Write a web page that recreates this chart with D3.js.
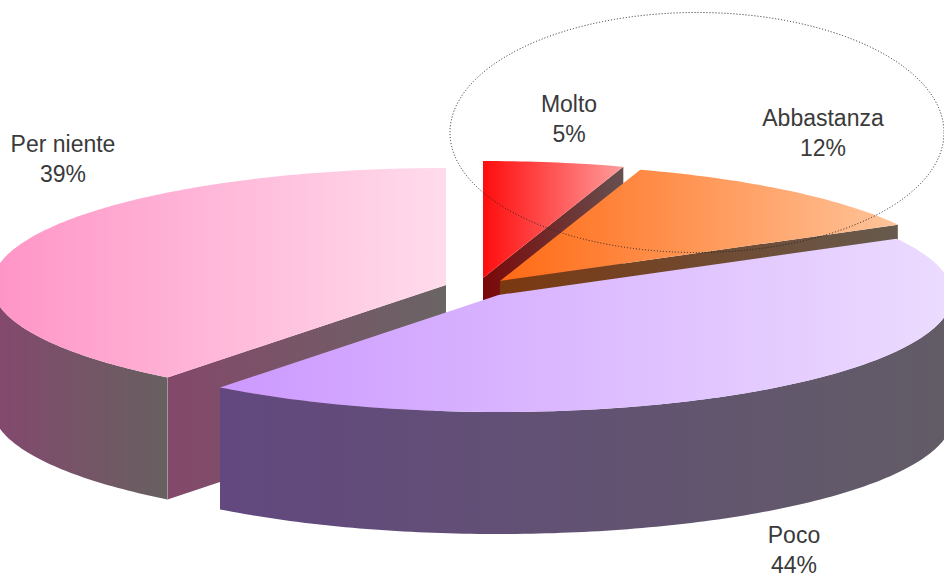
<!DOCTYPE html>
<html><head><meta charset="utf-8">
<script src="https://cdn.jsdelivr.net/npm/d3@7"></script>
<style>html,body{margin:0;padding:0;background:#fff;overflow:hidden}svg{display:block}</style>
</head><body><svg id="c" width="944" height="575"></svg>
<script>
const categories = ["Molto","Abbastanza","Poco","Per niente"];
const values = [5,12,43.51,39.49];
const topColors = [["#ff0d0d","#ff9d9d"],["#ff6a14","#ffc49a"],["#cc99ff","#ecdcff"],["#ff94c6","#ffdcec"]];
const edgeColors = [["#7a0808","#665050"],["#7a3810","#675a4e"],["#5f4680","#625c66"],["#84486a","#6a6464"]];
const rimColors = [["#7a0808","#665050"],["#7a3810","#675a4e"],["#62487f","#625c66"],["#84486e","#676060"]];
const apex = [[483,278],[500,281],[498.5,295],[446,285]];
const labelPos = [[569,112],[823,126],[794,543],[63,152]];
const rx = 454, ry = 117, depth = 122;

const svg = d3.select("#c");
const defs = svg.append("defs");
const pie = d3.pie().sort(null).value(d=>d);
const arcs = pie(values);
const grad = (id,c,x0,x1)=>{
  const g = defs.append("linearGradient").attr("id",id).attr("gradientUnits","userSpaceOnUse")
    .attr("x1",x0).attr("x2",x1).attr("y1",0).attr("y2",0);
  g.append("stop").attr("offset",0).attr("stop-color",c[0]);
  g.append("stop").attr("offset",1).attr("stop-color",c[1]);
};
const pt = (i,a,dz=0)=>[apex[i][0]+rx*Math.sin(a), apex[i][1]-ry*Math.cos(a)+dz];
const sweep = (a0,a1)=>{const n=Math.max(2,Math.ceil(Math.abs(a1-a0)*60));return d3.range(n+1).map(k=>a0+(a1-a0)*k/n);};
const poly = pts=>d3.line()(pts)+"Z";
const xExtent = pts=>d3.extent(pts,p=>p[0]);

function drawSlice(i,wallAngle){
  const a = arcs[i], g = svg.append("g");
  const rim = sweep(a.startAngle,a.endAngle).map(t=>pt(i,t));
  const topPts = [apex[i],...rim];
  const [x0,x1] = xExtent(topPts);
  grad("top"+i,topColors[i],x0,x1);
  wallAngle.forEach(w=>{
    const p = pt(i,w);
    const [e0,e1] = xExtent([apex[i],p]);
    grad("edge"+i,edgeColors[i],e0,e1);
    g.append("path").attr("d",poly([apex[i],p,[p[0],p[1]+depth],[apex[i][0],apex[i][1]+depth]]))
      .attr("fill",`url(#edge${i})`);
  });
  const lo = Math.max(a.startAngle,Math.PI/2), hi = Math.min(a.endAngle,Math.PI*1.5);
  if(hi>lo){
    const s = sweep(lo,hi);
    const top = s.map(t=>pt(i,t));
    const [r0,r1] = xExtent(top);
    // the rim runs from its darker, coloured end on the left to neutral grey on the right
    grad("rim"+i,rimColors[i],r0,r1);
    g.append("path").attr("d",poly([...top,...s.slice().reverse().map(t=>pt(i,t,depth))]))
      .attr("fill",`url(#rim${i})`);
  }
  g.append("path").attr("d",poly(topPts)).attr("fill",`url(#top${i})`);
}
drawSlice(0,[arcs[0].endAngle]);
drawSlice(1,[arcs[1].endAngle]);
drawSlice(3,[arcs[3].startAngle]);
const seam = pt(3,arcs[3].startAngle);
svg.append("line").attr("x1",seam[0]).attr("x2",seam[0]).attr("y1",seam[1]).attr("y2",seam[1]+depth)
  .attr("stroke","#a09a9c").attr("stroke-width",1);
drawSlice(2,[]);

svg.append("ellipse").attr("cx",697).attr("cy",132.5).attr("rx",247).attr("ry",120)
  .attr("fill","none").attr("stroke","#222").attr("stroke-width",1).attr("stroke-dasharray","1 2");

const pct = v=>Math.round(v)+"%";
categories.forEach((c,i)=>{
  const t = svg.append("text").attr("text-anchor","middle")
    .attr("font-family","'Liberation Sans',Arial,sans-serif").attr("font-size",23).attr("fill","#3a3a3a");
  t.append("tspan").attr("x",labelPos[i][0]).attr("y",labelPos[i][1]).text(c);
  t.append("tspan").attr("x",labelPos[i][0]).attr("y",labelPos[i][1]+30).text(pct(values[i]));
});
</script></body></html>
